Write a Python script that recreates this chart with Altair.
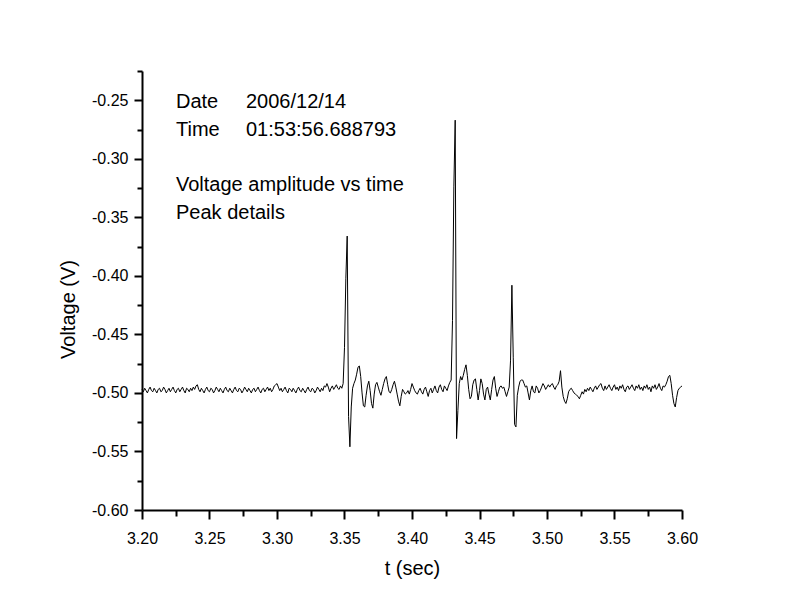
import altair as alt
import pandas as pd

# ---- signal values (V), sampled every 1 ms; each segment has its own start time ----
seg_a_start = 3.200
seg_a = [
    -0.497, -0.499, -0.496, -0.498, -0.500, -0.497, -0.495, -0.498, -0.499, -0.496,
    -0.498, -0.500, -0.497, -0.496, -0.499, -0.498, -0.495, -0.497, -0.500, -0.498,
    -0.496, -0.499, -0.497, -0.495, -0.498, -0.500, -0.497, -0.496, -0.499, -0.497,
    -0.495, -0.498, -0.500, -0.496, -0.497, -0.499, -0.496, -0.498, -0.495, -0.497,
    -0.494, -0.493, -0.497, -0.499, -0.496, -0.498, -0.500, -0.497, -0.495, -0.498,
    -0.499, -0.496, -0.497, -0.500, -0.498, -0.495, -0.497, -0.499, -0.496, -0.498,
    -0.500, -0.497, -0.495, -0.498, -0.499, -0.496, -0.498, -0.500, -0.497, -0.495,
    -0.498, -0.499, -0.496, -0.497, -0.500, -0.498, -0.495, -0.497, -0.499, -0.496,
    -0.498, -0.500, -0.497, -0.496, -0.499, -0.497, -0.495, -0.498, -0.500, -0.497,
    -0.496, -0.499, -0.497, -0.495, -0.498, -0.496, -0.499, -0.497, -0.494, -0.493,
    -0.492, -0.495, -0.498, -0.496, -0.499, -0.497, -0.495, -0.498, -0.500, -0.496,
    -0.497, -0.499, -0.496, -0.498, -0.500, -0.497, -0.495, -0.498, -0.499, -0.496,
    -0.498, -0.500, -0.497, -0.495, -0.498, -0.499, -0.496, -0.497, -0.500, -0.498,
    -0.495, -0.497, -0.499, -0.496, -0.498, -0.494, -0.495, -0.492, -0.495, -0.499,
    -0.496, -0.494, -0.497, -0.495, -0.493, -0.496,
]

seg_b_start = 3.346
seg_b = [
    -0.497, -0.494, -0.496, -0.492, -0.461, -0.402, -0.366, -0.520, -0.546, -0.512,
    -0.496, -0.492, -0.489, -0.484, -0.478, -0.477, -0.486, -0.500, -0.511, -0.512,
    -0.502, -0.494, -0.490, -0.498, -0.509, -0.513, -0.501, -0.493, -0.491, -0.495,
    -0.499, -0.502, -0.497, -0.492, -0.488, -0.486, -0.493, -0.499, -0.500, -0.497,
    -0.493, -0.490, -0.495, -0.501, -0.507, -0.511, -0.503, -0.497, -0.499, -0.501,
    -0.500, -0.498, -0.501, -0.497,
]

seg_c_start = 3.400
seg_c = [
    -0.492, -0.495, -0.498, -0.500, -0.501, -0.498, -0.496, -0.499, -0.501, -0.497,
    -0.495, -0.499, -0.503, -0.498, -0.496, -0.500, -0.497, -0.494, -0.498, -0.500,
    -0.495, -0.493, -0.497, -0.499, -0.494, -0.496, -0.498, -0.494, -0.491, -0.489,
    -0.438,
]

seg_d_start = 3.431
seg_d = [
    -0.324, -0.267, -0.539, -0.515, -0.492, -0.486, -0.489, -0.485, -0.480, -0.476,
    -0.485, -0.497, -0.505, -0.503, -0.493, -0.489, -0.488, -0.497, -0.506, -0.498,
    -0.488, -0.492, -0.501, -0.506, -0.497, -0.495, -0.501, -0.506, -0.497, -0.489,
    -0.486, -0.496, -0.503, -0.499, -0.495, -0.494, -0.496, -0.495, -0.499, -0.503,
    -0.499, -0.495, -0.472, -0.408, -0.470, -0.527, -0.529, -0.502, -0.495, -0.490,
    -0.489, -0.489, -0.492, -0.495, -0.494, -0.500, -0.506, -0.498, -0.494, -0.499,
    -0.500, -0.494, -0.496, -0.500, -0.498,
]

seg_e_start = 3.496
seg_e = [
    -0.495, -0.492, -0.494, -0.497, -0.495, -0.493, -0.495, -0.493, -0.492, -0.495,
    -0.497, -0.494, -0.493, -0.490, -0.481, -0.495, -0.503, -0.507, -0.509, -0.505,
    -0.499, -0.497, -0.496, -0.498, -0.500, -0.501, -0.502, -0.503, -0.505, -0.502,
    -0.499, -0.501, -0.497, -0.499, -0.496,
    -0.498, -0.495, -0.497, -0.499, -0.496, -0.494, -0.497, -0.495, -0.493,
    -0.492, -0.496, -0.498, -0.494, -0.497, -0.495, -0.493, -0.496, -0.498, -0.495,
    -0.493, -0.497, -0.495, -0.498, -0.494, -0.496, -0.493, -0.497, -0.499, -0.495,
    -0.494, -0.497, -0.495, -0.493, -0.496, -0.498, -0.494, -0.496, -0.493, -0.497,
    -0.495, -0.498, -0.494, -0.496, -0.493, -0.497, -0.495, -0.499, -0.494, -0.496,
    -0.493, -0.497, -0.495, -0.492, -0.496, -0.498, -0.494, -0.495, -0.493, -0.490,
    -0.486, -0.485, -0.492, -0.502, -0.509, -0.512, -0.504, -0.498, -0.496, -0.495,
    -0.494,
]

# ---- axis ticks ----
x_major = [3.20, 3.25, 3.30, 3.35, 3.40, 3.45, 3.50, 3.55, 3.60]
x_minor = [3.225, 3.275, 3.325, 3.375, 3.425, 3.475, 3.525, 3.575]
y_major = [-0.60, -0.55, -0.50, -0.45, -0.40, -0.35, -0.30, -0.25]
y_minor = [-0.575, -0.525, -0.475, -0.425, -0.375, -0.325, -0.275, -0.225]
x_domain = [3.20, 3.60]
y_domain = [-0.60, -0.225]

# ---- annotation text ----
note_keys = ["Date", "Time"]
note_vals = ["2006/12/14", "01:53:56.688793"]
note_lines = ["Voltage amplitude vs time", "Peak details"]

rows = []
for start, seg in [(seg_a_start, seg_a), (seg_b_start, seg_b), (seg_c_start, seg_c),
                   (seg_d_start, seg_d), (seg_e_start, seg_e)]:
    for i, v in enumerate(seg):
        rows.append({"t": round(start + i * 0.001, 4), "v": v})
df = pd.DataFrame(rows)

FONT = "Liberation Sans"

xs = alt.Scale(domain=x_domain, nice=False, zero=False)
ys = alt.Scale(domain=y_domain, nice=False, zero=False)

common = dict(grid=False, labelFont=FONT, labelFontSize=16, labelColor="black",
              titleFont=FONT, titleFontSize=20, titleFontWeight="normal",
              titleColor="black", domainColor="black", domainWidth=2,
              tickColor="black", tickWidth=2, labelFlush=False)

main = alt.Chart(df).mark_line(color="black", strokeWidth=1).encode(
    x=alt.X("t:Q", scale=xs, axis=alt.Axis(
        values=x_major, format=".2f", title="t (sec)", orient="bottom",
        tickSize=9, labelPadding=11, titleY=64, titleBaseline="alphabetic",
        **common,
    )),
    y=alt.Y("v:Q", scale=ys, axis=alt.Axis(
        values=y_major, title="Voltage (V)", orient="left",
        labelExpr="'-' + format(-datum.value, '.2f')",
        tickSize=8, labelPadding=6,
        titleX=-74, titleY=238, titleAlign="center", titleBaseline="middle",
        **common,
    )),
)

minor = alt.Chart(df).mark_line(opacity=0).encode(
    x=alt.X("t:Q", scale=xs, axis=alt.Axis(
        values=x_minor, labels=False, domain=False, title=None, orient="bottom",
        tickSize=6, grid=False, tickColor="black", tickWidth=2,
    )),
    y=alt.Y("v:Q", scale=ys, axis=alt.Axis(
        values=y_minor, labels=False, domain=False, title=None, orient="left",
        tickSize=5, grid=False, tickColor="black", tickWidth=2,
    )),
)

text_layers = []
line_y = [37, 65, 120, 148]
for i, k in enumerate(note_keys):
    text_layers.append(alt.Chart(df.head(1)).mark_text(
        align="left", baseline="alphabetic", font=FONT, fontSize=20, color="black"
    ).encode(x=alt.value(34), y=alt.value(line_y[i]), text=alt.value(k)))
    text_layers.append(alt.Chart(df.head(1)).mark_text(
        align="left", baseline="alphabetic", font=FONT, fontSize=20, color="black"
    ).encode(x=alt.value(104), y=alt.value(line_y[i]), text=alt.value(note_vals[i])))
for j, s in enumerate(note_lines):
    text_layers.append(alt.Chart(df.head(1)).mark_text(
        align="left", baseline="alphabetic", font=FONT, fontSize=20, color="black"
    ).encode(x=alt.value(34), y=alt.value(line_y[2 + j]), text=alt.value(s)))

chart = alt.layer(main, minor, *text_layers).resolve_axis(
    x="independent", y="independent"
).properties(
    width=540, height=439,
    background="white",
    autosize=alt.AutoSizeParams(type="none"),
    padding={"left": 134, "top": 63, "right": 90, "bottom": 85},
).configure_view(stroke=None)

chart.save("out.html", embed_options={"renderer": "svg", "actions": False})
